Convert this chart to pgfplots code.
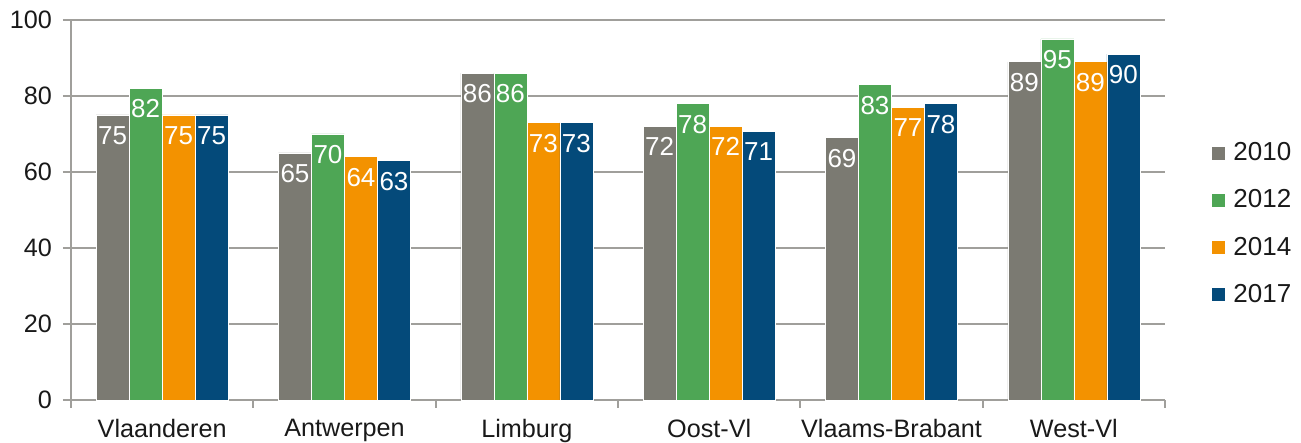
\documentclass[border=0pt]{standalone}
\usepackage{pgfplots}
\pgfplotsset{compat=1.18}
\usepackage{pgfplotstable}
\usepackage{fontspec}
\setmainfont{Liberation Sans}
\definecolor{cgray}{RGB}{123,122,114}
\definecolor{cgreen}{RGB}{78,166,85}
\definecolor{corange}{RGB}{243,146,0}
\definecolor{cblue}{RGB}{4,74,122}
\definecolor{gridgray}{RGB}{160,159,155}
\pgfplotstableread{
x y lab
0 75 75
1 65 65
2 86 86
3 72 72
4 69 69
5 89 89
}\tA
\pgfplotstableread{
x y lab
0 82 82
1 70 70
2 86 86
3 78 78
4 83 83
5 95 95
}\tB
\pgfplotstableread{
x y lab
0 75 75
1 64 64
2 73 73
3 72 72
4 77 77
5 89 89
}\tC
\pgfplotstableread{
x y lab
0 75 75
1 63 63
2 73 73
3 70.6 71
4 78 78
5 91 90
}\tD
\begin{document}
\begin{tikzpicture}
\useasboundingbox (0,0) rectangle (650.5pt,221.5pt);
\begin{axis}[
  at={(35.5pt,21.5pt)}, anchor=south west,
  scale only axis, width=547pt, height=190pt,
  font=\fontsize{12.6}{14}\selectfont,
  ybar=0pt, bar width=16.5pt,
  xmin=-0.5, xmax=5.5, ymin=0, ymax=100,
  axis x line=bottom, axis y line=left,
  axis line style={draw=gridgray, line width=1pt, -},
  ytick={0,20,...,100},
  xtick={0,...,5},
  xticklabels={Vlaanderen,Antwerpen,Limburg,Oost-Vl,Vlaams-Brabant,West-Vl},
  minor xtick={-0.5,0.5,...,5.5},
  major x tick style={draw=none},
  minor tick length=4pt, major tick length=4pt,
  tick align=outside,
  tick style={draw=gridgray, line width=1pt},
  ymajorgrids, grid style={draw=gridgray, line width=1pt},
  /pgf/number format/assume math mode=true,
  ticklabel style={font=\fontsize{12.6}{14}\selectfont, text=black!90},
  xticklabel style={yshift=-2pt},
  yticklabel style={xshift=-2pt},
  nodes near coords,
  point meta=explicit symbolic,
  every node near coord/.append style={anchor=north, text=white, inner sep=0pt, yshift=-5.5pt, font=\fontsize{13}{14}\selectfont},
  legend style={at={(1,0.5)}, anchor=west, xshift=23.5pt, yshift=-7pt, draw=none, fill=none, inner sep=0pt, row sep=9pt, font=\fontsize{13}{14}\selectfont, text=black!90, nodes={inner xsep=4pt, inner ysep=2pt}},
  legend image code/.code={\fill[#1,draw=none] (0pt,-3.25pt) rectangle (6.5pt,3.25pt);},
  legend cell align=left,
  clip=false,
]
\addplot[fill=cgray, draw=white, line width=0.3pt] table[x=x,y=y,meta=lab]{\tA};
\addplot[fill=cgreen, draw=white, line width=0.3pt] table[x=x,y=y,meta=lab]{\tB};
\addplot[fill=corange, draw=white, line width=0.3pt] table[x=x,y=y,meta=lab]{\tC};
\addplot[fill=cblue, draw=white, line width=0.3pt] table[x=x,y=y,meta=lab]{\tD};
\legend{2010,2012,2014,2017}
\end{axis}
\end{tikzpicture}
\end{document}
